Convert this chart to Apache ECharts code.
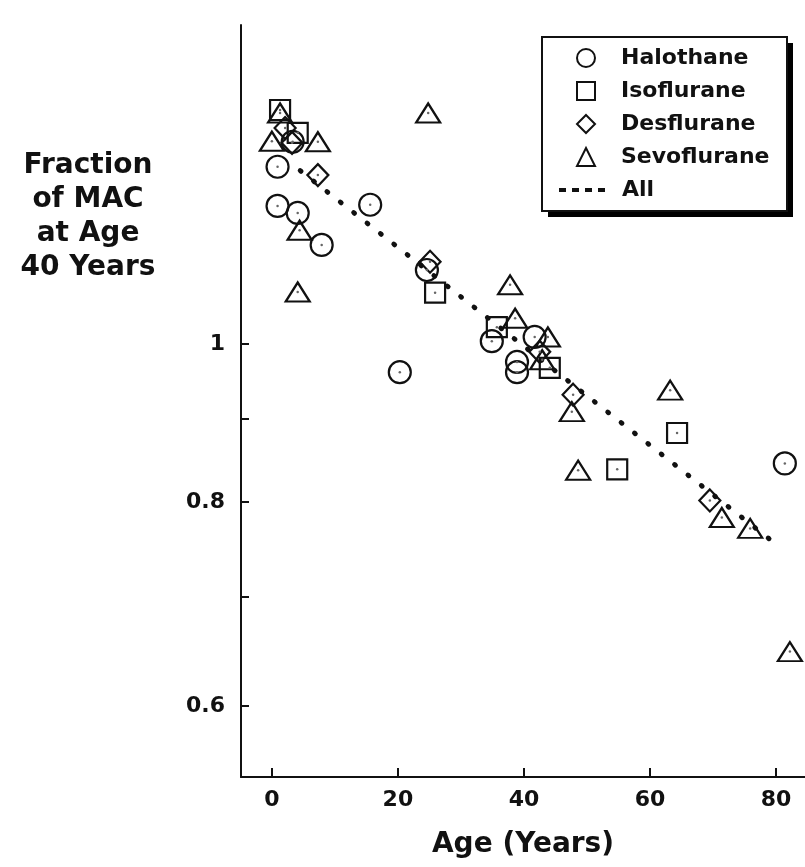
<!DOCTYPE html>
<html>
<head>
<meta charset="utf-8">
<title>Fraction of MAC at Age 40 Years</title>
<script src="https://cdn.jsdelivr.net/npm/echarts@6/dist/echarts.min.js"></script>
<style>
html, body { margin: 0; padding: 0; background: #fff; }
#chart { width: 805px; height: 867px; }
</style>
</head>
<body>
<div id="chart"></div>
<script>
// values: age (years) and fraction of MAC at age 40
var halothaneAge = [0.9, 0.9, 3.3, 4.1, 7.9, 15.6, 20.3, 24.6, 34.9, 38.9, 38.9, 41.7, 81.4];
var halothaneMac = [1.284, 1.215, 1.33, 1.203, 1.150, 1.217, 0.961, 1.110, 1.004, 0.975, 0.961, 1.010, 0.845];

var isofluraneAge = [1.3, 4.1, 25.9, 35.7, 44.1, 54.8, 64.3];
var isofluraneMac = [1.391, 1.347, 1.075, 1.024, 0.967, 0.838, 0.882];

var desfluraneAge = [2.1, 3.2, 7.3, 25.1, 42.5, 47.8, 69.5];
var desfluraneMac = [1.356, 1.328, 1.269, 1.123, 0.989, 0.931, 0.802];

var sevofluraneAge = [1.3, 0, 7.3, 4.4, 4.1, 24.8, 37.8, 38.6, 43.8, 42.9, 47.6, 48.6, 63.2, 71.4, 75.9, 82.2];
var sevofluraneMac = [1.385, 1.331, 1.330, 1.174, 1.076, 1.385, 1.087, 1.037, 1.010, 0.978, 0.909, 0.837, 0.937, 0.783, 0.771, 0.648];

var allAge = [4.5, 80];
var allMac = [1.277, 0.754];

var xTicks = [0, 20, 40, 60, 80];
var yTicks = [0.6, 0.7, 0.8, 0.9, 1];
var yLabels = [0.6, 0.8, 1];

var FONT = '"DejaVu Sans", "Liberation Sans", sans-serif';
var INK = '#111';

// the y axis is logarithmic: plot ln(value) on a value axis
function pairs(ages, macs) {
	var out = [];
	for (var i = 0; i < ages.length; i++) {
		out.push([ages[i], Math.log(macs[i])]);
	}
	return out;
}

function markerSeries(name, symbol, size, ages, macs) {
	return {
		name: name,
		type: 'scatter',
		symbol: symbol,
		symbolSize: size,
		data: pairs(ages, macs),
		itemStyle: {color: 'rgba(255,255,255,0)', borderColor: INK, borderWidth: 2.2, opacity: 1},
		emphasis: {disabled: true},
		z: 3
	};
}

var centres = [].concat(
	pairs(halothaneAge, halothaneMac),
	pairs(isofluraneAge, isofluraneMac),
	pairs(desfluraneAge, desfluraneMac),
	pairs(sevofluraneAge, sevofluraneMac)
);

var legendText = {
	fontFamily: FONT, fontWeight: 'bold', fontSize: 22, color: INK, lineHeight: 22
};

var chart = echarts.init(document.getElementById('chart'));

chart.setOption({
	animation: false,
	backgroundColor: '#fff',
	grid: {left: 241, right: 0, top: 25, bottom: 90, containLabel: false},
	xAxis: {
		type: 'value',
		min: -4.9,
		max: 84.6,
		name: 'Age (Years)',
		nameLocation: 'middle',
		nameGap: 54,
		nameTextStyle: {fontFamily: FONT, fontWeight: 'bold', fontSize: 28, color: INK},
		axisLine: {onZero: false, lineStyle: {color: INK, width: 2}},
		axisTick: {inside: true, length: 9, lineStyle: {color: INK, width: 2}, customValues: xTicks},
		axisLabel: {
			customValues: xTicks,
			margin: 12,
			fontFamily: FONT, fontWeight: 'bold', fontSize: 22, color: INK
		},
		splitLine: {show: false}
	},
	yAxis: {
		type: 'value',
		min: -0.6107,
		max: 0.4499,
		axisLine: {onZero: false, lineStyle: {color: INK, width: 2}},
		axisTick: {
			inside: true, length: 8, lineStyle: {color: INK, width: 2},
			customValues: yTicks.map(Math.log)
		},
		axisLabel: {
			customValues: yLabels.map(Math.log),
			margin: 16,
			fontFamily: FONT, fontWeight: 'bold', fontSize: 22, color: INK,
			formatter: function (v) {
				return String(Math.round(Math.exp(v) * 10) / 10);
			}
		},
		splitLine: {show: false}
	},
	// two legends so the markers keep their shape and the dotted line gets a wide icon
	legend: [{
		orient: 'vertical',
		left: 576,
		top: 47,
		z: 5,
		padding: 0,
		data: ['Halothane', 'Isoflurane', 'Desflurane', 'Sevoflurane'],
		itemWidth: 18,
		itemHeight: 18,
		itemGap: 11,
		selectedMode: false,
		textStyle: echarts.util.extend({padding: [0, 0, 0, 21]}, legendText)
	}, {
		orient: 'vertical',
		left: 557,
		top: 179,
		z: 5,
		padding: 0,
		data: [{
			name: 'All',
			itemStyle: {color: 'rgba(0,0,0,0)', borderWidth: 0, opacity: 0},
			lineStyle: {color: INK, width: 4, type: [7, 6], cap: 'butt'}
		}],
		itemWidth: 48,
		itemHeight: 18,
		selectedMode: false,
		textStyle: echarts.util.extend({padding: [0, 0, 0, 10]}, legendText)
	}],
	graphic: [{
		// legend frame with its drop shadow
		type: 'rect',
		z: 1,
		shape: {x: 548, y: 43, width: 245, height: 174},
		style: {fill: '#000'}
	}, {
		type: 'rect',
		z: 2,
		shape: {x: 542, y: 37, width: 245, height: 174},
		style: {fill: '#fff', stroke: INK, lineWidth: 2}
	}, {
		type: 'text',
		x: 88,
		y: 149,
		style: {
			text: 'Fraction\nof MAC\nat Age\n40 Years',
			font: 'bold 28px ' + FONT,
			fill: INK,
			align: 'center',
			verticalAlign: 'top',
			lineHeight: 34
		}
	}],
	series: [
		markerSeries('Halothane', 'circle', 22, halothaneAge, halothaneMac),
		markerSeries('Isoflurane', 'rect', 20, isofluraneAge, isofluraneMac),
		markerSeries('Desflurane', 'diamond', [21, 22], desfluraneAge, desfluraneMac),
		markerSeries('Sevoflurane', 'triangle', [24, 19], sevofluraneAge, sevofluraneMac),
		{
			name: 'All',
			type: 'line',
			data: pairs(allAge, allMac),
			symbol: 'none',
			itemStyle: {color: INK},
			lineStyle: {color: INK, width: 5, type: [1, 16], cap: 'round'},
			emphasis: {disabled: true},
			z: 2
		},
		{
			name: 'centre',
			type: 'scatter',
			symbol: 'circle',
			symbolSize: 2.5,
			data: centres,
			itemStyle: {color: '#666', opacity: 1},
			silent: true,
			z: 4
		}
	]
});
</script>
</body>
</html>
